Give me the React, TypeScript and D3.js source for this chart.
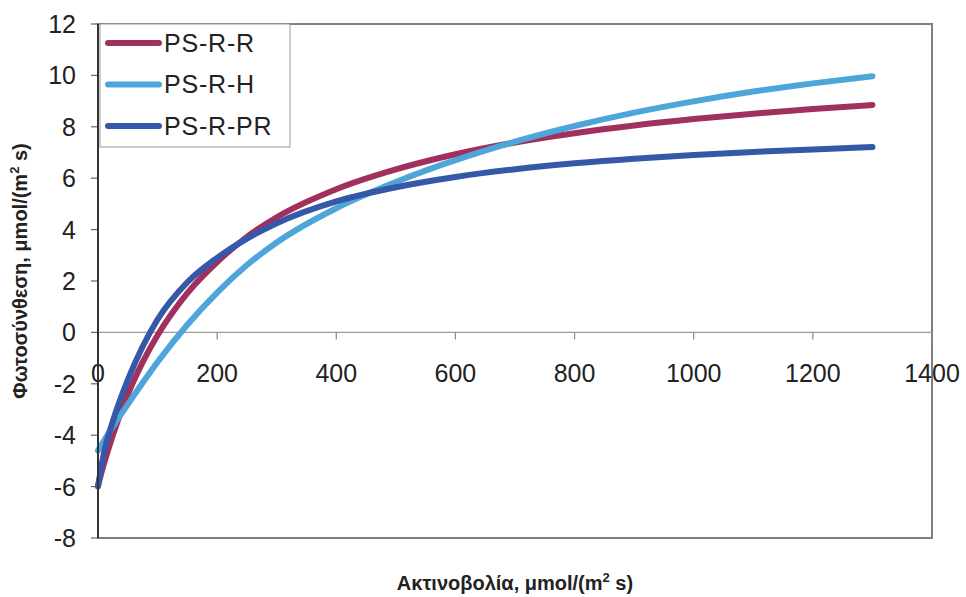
import React from "react";
import * as d3 from "d3";

const xValues = [0, 10, 25, 50, 75, 100, 150, 200, 250, 300, 400, 500, 600, 700, 800, 900, 1000, 1100, 1200, 1300];
const psRR = [-5.96, -5.11, -3.99, -2.42, -1.16, -0.11, 1.53, 2.74, 3.72, 4.48, 5.57, 6.34, 6.93, 7.39, 7.75, 8.05, 8.3, 8.51, 8.69, 8.85];
const psRH = [-4.6, -4.22, -3.67, -2.8, -1.96, -1.15, 0.3, 1.55, 2.62, 3.5, 4.83, 5.85, 6.7, 7.42, 8.03, 8.55, 8.99, 9.37, 9.69, 9.97];
const psRPR = [-6.0, -4.7, -3.45, -1.85, -0.55, 0.5, 1.95, 2.9, 3.65, 4.25, 5.1, 5.65, 6.05, 6.35, 6.58, 6.76, 6.9, 7.02, 7.12, 7.21];
const seriesNames = ["PS-R-R", "PS-R-H", "PS-R-PR"];
const seriesColors = ["#A2305E", "#4DA5D9", "#3558A8"];
const xTicks = [0, 200, 400, 600, 800, 1000, 1200, 1400];
const yTicks = [-8, -6, -4, -2, 0, 2, 4, 6, 8, 10, 12];

const W = 966, H = 597;
const L = 98, R = 932, T = 24, B = 538;

export default function App() {
  const x = d3.scaleLinear().domain([0, 1400]).range([L, R]);
  const y = d3.scaleLinear().domain([-8, 12]).range([B, T]);
  const series = [psRR, psRH, psRPR];
  const line = d3
    .line<[number, number]>()
    .x((d) => x(d[0]))
    .y((d) => y(d[1]))
    .curve(d3.curveMonotoneX);
  const font = "Arial, 'Liberation Sans', Helvetica, sans-serif";

  return (
    <svg width={W} height={H} style={{ position: "absolute", left: 0, top: 0, background: "#fff" }} fontFamily={font}>
      <rect x={0} y={0} width={W} height={H} fill="#fff" />
      {/* plot border */}
      <rect x={L} y={T} width={R - L} height={B - T} fill="none" stroke="#7f7f7f" strokeWidth={2} />
      {/* x axis at y=0 */}
      <line x1={L} x2={R} y1={y(0)} y2={y(0)} stroke="#9a9a9a" strokeWidth={1.2} />
      {xTicks.map((t) => (
        <g key={"xt" + t}>
          <line x1={x(t)} x2={x(t)} y1={y(0)} y2={y(0) + 7} stroke="#888" strokeWidth={1.2} />
          <text x={x(t)} y={y(0) + 50} textAnchor="middle" fontSize={25} fill="#222">
            {t}
          </text>
        </g>
      ))}
      {/* y axis */}
      {yTicks.map((t) => (
        <g key={"yt" + t}>
          <line x1={L - 7} x2={L} y1={y(t)} y2={y(t)} stroke="#666" strokeWidth={1.2} />
          <text x={76} y={y(t) + 9} textAnchor="end" fontSize={25} fill="#222">
            {t}
          </text>
        </g>
      ))}
      {/* series */}
      {series.map((vals, i) => (
        <path
          key={seriesNames[i]}
          d={line(xValues.map((xv, j) => [xv, vals[j]] as [number, number])) || ""}
          fill="none"
          stroke={seriesColors[i]}
          strokeWidth={6}
          strokeLinecap="round"
          strokeLinejoin="round"
        />
      ))}
      <line x1={L} x2={L} y1={T} y2={B} stroke="#333" strokeWidth={2} />
      {/* legend */}
      <rect x={100} y={24} width={190} height={123} fill="#fff" stroke="#999" strokeWidth={1} />
      {seriesNames.map((n, i) => (
        <g key={"lg" + n}>
          <line x1={108} x2={159} y1={43 + i * 41.5} y2={43 + i * 41.5} stroke={seriesColors[i]} strokeWidth={6} strokeLinecap="round" />
          <text x={164} y={43 + i * 41.5 + 8.5} fontSize={25} letterSpacing={0.8} fill="#222">
            {n}
          </text>
        </g>
      ))}
      {/* axis titles */}
      <text x={(L + R) / 2} y={590} textAnchor="middle" fontSize={20} fontWeight="bold" fill="#222">
        Ακτινοβολία, μmol/(m
        <tspan fontSize={13} dy={-8}>2</tspan>
        <tspan dy={8}> s)</tspan>
      </text>
      <text
        transform={`translate(27, ${(T + B) / 2 - 10}) rotate(-90)`}
        textAnchor="middle"
        fontSize={20}
        fontWeight="bold"
        fill="#222"
      >
        Φωτοσύνθεση, μmol/(m
        <tspan fontSize={13} dy={-8}>2</tspan>
        <tspan dy={8}> s)</tspan>
      </text>
    </svg>
  );
}
